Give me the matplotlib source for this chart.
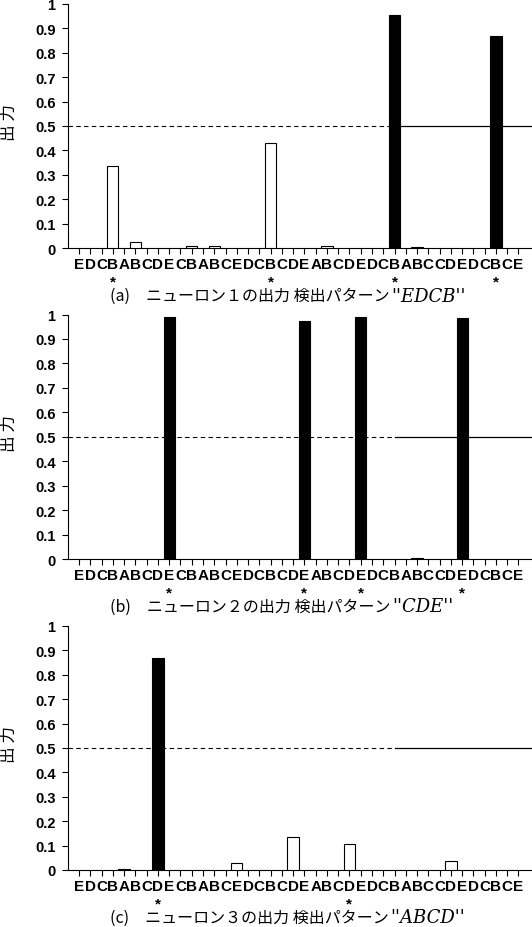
import matplotlib
matplotlib.use("Agg")
import matplotlib.pyplot as plt
import numpy as np

# input sequence shown under every panel
sequence = list("EDCBABCDECBABCEDCBCDEABCDEDCBABCCDEDCBCE")

# output of neuron 1 (pattern EDCB)
neuron1 = [0, 0, 0, 0.335, 0, 0.025, 0, 0, 0, 0,
           0.008, 0, 0.008, 0, 0, 0, 0, 0.43, 0, 0,
           0, 0, 0.008, 0, 0, 0, 0, 0, 0.953, 0,
           0.004, 0, 0, 0, 0, 0, 0, 0.866, 0, 0]
# output of neuron 2 (pattern CDE)
neuron2 = [0, 0, 0, 0, 0, 0, 0, 0, 0.99, 0,
           0, 0, 0, 0, 0, 0, 0, 0, 0, 0,
           0.975, 0, 0, 0, 0, 0.99, 0, 0, 0, 0,
           0.004, 0, 0, 0, 0.986, 0, 0, 0, 0, 0]
# output of neuron 3 (pattern ABCD)
neuron3 = [0, 0, 0, 0, 0.004, 0, 0, 0.87, 0, 0,
           0, 0, 0, 0, 0.03, 0, 0, 0, 0, 0.136,
           0, 0, 0, 0, 0.105, 0, 0, 0, 0, 0,
           0, 0, 0, 0.037, 0, 0, 0, 0, 0, 0]

# positions in the sequence where the pattern ends (marked with *)
detected1 = [3, 17, 28, 37]
detected2 = [8, 20, 25, 34]
detected3 = [7, 24]

tags = ["(a)", "(b)", "(c)"]
neuron_ids = ["１", "２", "３"]
patterns = ["EDCB", "CDE", "ABCD"]

threshold = 0.5

W, H = 532, 928
XMIN, XMAX = -0.98, 40.2
DASH_END = 28.0
JP = ["Noto Sans CJK JP", "DejaVu Sans"]


def draw_panel(fig, top, zero, values, marks, tag, nid, pattern):
    ax = fig.add_axes([68 / W, 1 - zero / H, (W - 68) / W, (zero - top) / H])
    x = np.arange(len(sequence))
    vals = np.array(values)
    show = vals > 0
    colors = ["black" if v > threshold else "white" for v in vals[show]]
    ax.bar(x[show], vals[show], width=1.0, color=colors, edgecolor="black",
           linewidth=0.8, zorder=3)

    # threshold line (dashed on the left part, solid on the right)
    ax.plot([XMIN, DASH_END], [threshold, threshold], color="black", lw=0.8,
            ls=(0, (4, 3)), zorder=2)
    ax.plot([DASH_END, XMAX], [threshold, threshold], color="black", lw=0.9,
            zorder=2)

    ax.set_xlim(XMIN, XMAX)
    ax.set_ylim(0, 1)
    ax.spines["top"].set_visible(False)
    ax.spines["right"].set_visible(False)
    for s in ("left", "bottom"):
        ax.spines[s].set_linewidth(0.8)

    yt = np.round(np.arange(0, 1.01, 0.1), 1)
    ax.set_yticks(yt)
    ax.set_yticklabels(["%g" % v for v in yt], family="Liberation Sans",
                       fontweight="bold", fontsize=10.5)
    ax.set_xticks(x)
    ax.set_xticklabels(sequence, family="Liberation Sans", fontweight="bold",
                       fontsize=11)
    ax.tick_params(axis="y", direction="out", length=4, width=0.8, pad=5)
    ax.tick_params(axis="x", direction="out", length=4, width=0.8, pad=2.5)

    for i in marks:
        ax.annotate("*", xy=(i, 0), xycoords="data", xytext=(0, -24),
                    textcoords="offset points", ha="center", va="center",
                    fontsize=11, fontweight="bold", family="Liberation Sans")

    mid = (top + zero) / 2 - 4
    fig.text(9 / W, 1 - mid / H, "出 力", rotation=90, ha="center",
             va="center", fontsize=12, family=JP)

    # caption: japanese part, then the pattern in italic serif
    cap_y = 1 - (zero + 47.5) / H
    t1 = fig.text(110 / W, cap_y, tag + "\u3000ニューロン" + nid + "の出力 検出パターン",
                  ha="left", va="center", fontsize=11.5, family=JP)
    ax.annotate("''" + pattern + "''", xy=(1, 0.5), xycoords=t1,
                xytext=(1, 0), textcoords="offset points", ha="left",
                va="center", fontsize=13, style="italic", family="DejaVu Serif",
                annotation_clip=False)
    return ax


def main():
    fig = plt.figure(figsize=(W / 100, H / 100), dpi=100)
    draw_panel(fig, 4.7, 249.3, neuron1, detected1, tags[0], neuron_ids[0], patterns[0])
    draw_panel(fig, 315.5, 560.0, neuron2, detected2, tags[1], neuron_ids[1], patterns[1])
    draw_panel(fig, 627.0, 871.0, neuron3, detected3, tags[2], neuron_ids[2], patterns[2])
    fig.savefig("out.png", dpi=100)


if __name__ == "__main__":
    main()
